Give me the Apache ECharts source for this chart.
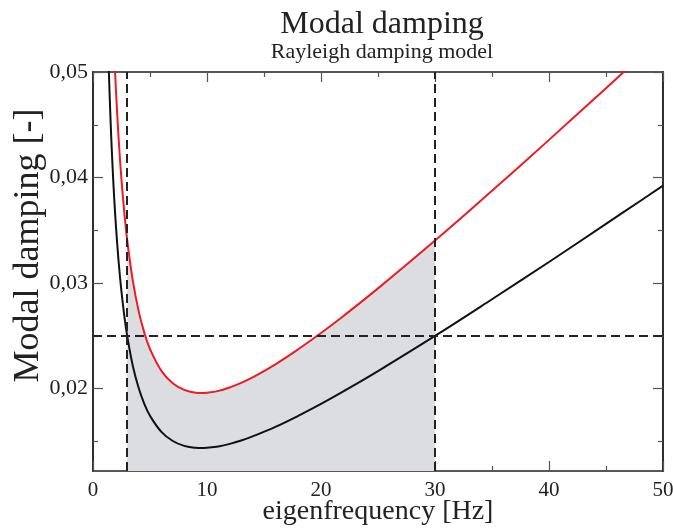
<!DOCTYPE html>
<html>
<head>
<meta charset="utf-8">
<script src="https://cdn.jsdelivr.net/npm/echarts@6/dist/echarts.min.js"></script>
<style>
  html, body { margin: 0; padding: 0; background: #fff; }
  #chart { width: 673px; height: 530px; }
</style>
</head>
<body>
<div id="chart"></div>
<script>
var freqs = [1.3, 1.4, 1.5, 1.6, 1.7, 1.8, 1.9, 2, 2.25, 2.5, 2.75, 3, 3.5, 4, 4.5, 5, 6, 7, 8, 9, 9.5, 10,
  11, 12, 13, 14, 16, 18, 20, 22, 25, 30, 35, 40, 45, 48, 50];
var blackDamping = [0.05343, 0.04976, 0.04659, 0.04382, 0.04140, 0.03924, 0.03732, 0.03561, 0.03200,
  0.02916, 0.02687, 0.02500, 0.02213, 0.02008, 0.01856, 0.01743, 0.01591, 0.01504, 0.01458, 0.01440,
  0.01437, 0.01440, 0.01453, 0.01477, 0.01509, 0.01548, 0.01638, 0.01743, 0.01856, 0.01977, 0.02167,
  0.02500, 0.02847, 0.03200, 0.03561, 0.03778, 0.03924];
var redDamping = [0.07288, 0.06787, 0.06355, 0.05978, 0.05646, 0.05353, 0.05091, 0.04856, 0.04365,
  0.03978, 0.03666, 0.03409, 0.03018, 0.02737, 0.02531, 0.02376, 0.02169, 0.02051, 0.01988, 0.01961,
  0.01958, 0.01961, 0.01979, 0.02012, 0.02055, 0.02107, 0.02231, 0.02373, 0.02527, 0.02691, 0.02950,
  0.03403, 0.03875, 0.04357, 0.04847, 0.05143, 0.05341];

var refFreqs = [3, 30];      // dashed vertical lines
var refDamping = [0.025];    // dashed horizontal line
var yMajorTicks = [0.02, 0.03, 0.04, 0.05];
var yMinorTicks = [0.015, 0.025, 0.035, 0.045];

(function dampingChart() {
  var dom = document.getElementById("chart");
  var myChart = echarts.init(dom, null, { renderer: "canvas" });
  var font = "Liberation Serif";

  var black = freqs.map(function (f, i) { return [f, blackDamping[i]]; });
  var red = freqs.map(function (f, i) { return [f, redDamping[i]]; });
  var band = red.filter(function (p) { return p[0] >= refFreqs[0] && p[0] <= refFreqs[1]; });

  var yMin = 0.0122, yMax = 0.05;
  var axisLine = { show: true, lineStyle: { color: "#222", width: 1.5 } };

  function yAxisDef(position, ticks, len, extra) {
    return Object.assign({
      type: "value",
      position: position,
      min: yMin,
      max: yMax,
      axisLine: axisLine,
      splitLine: { show: false },
      axisLabel: { show: false },
      axisTick: {
        show: true, inside: true, length: len, customValues: ticks,
        lineStyle: { color: "#555", width: 1.2 },
      },
    }, extra || {});
  }

  function xAxisDef(position, extra) {
    return Object.assign({
      type: "value",
      position: position,
      min: 0,
      max: 50,
      interval: 10,
      axisLine: axisLine,
      splitLine: { show: false },
      axisLabel: { show: false },
      axisTick: { show: true, inside: true, length: 10, lineStyle: { color: "#555", width: 1.2 } },
      minorTick: { show: true, splitNumber: 2, length: 5, lineStyle: { color: "#555", width: 1.2 } },
    }, extra || {});
  }

  var option = {
    animation: false,
    backgroundColor: "#fff",
    textStyle: { fontFamily: font },
    title: {
      text: "Modal damping",
      subtext: "Rayleigh damping model",
      left: 377,
      textAlign: "center",
      top: 4,
      itemGap: 0,
      textStyle: { fontFamily: font, fontSize: 32, fontWeight: "normal", color: "#222" },
      subtextStyle: { fontFamily: font, fontSize: 22, color: "#222" },
    },
    grid: { left: 93, right: 10, top: 72, bottom: 59, outerBoundsMode: "none", containLabel: false },
    xAxis: [
      xAxisDef("bottom", {
        name: "eigenfrequency [Hz]",
        nameLocation: "middle",
        nameGap: 27,
        nameMoveOverlap: false,
        nameTextStyle: { fontFamily: font, fontSize: 28, color: "#222" },
        axisLabel: { show: true, margin: 9, fontFamily: font, fontSize: 21, color: "#222" },
      }),
      xAxisDef("top"),
    ],
    yAxis: [
      yAxisDef("left", yMajorTicks, 10, {
        name: "Modal damping [-]",
        nameLocation: "middle",
        nameGap: 46,
        nameMoveOverlap: false,
        nameTextStyle: { fontFamily: font, fontSize: 36, color: "#222", padding: [0, 0, 0, 52] },
        axisLabel: {
          show: true, margin: 5, fontFamily: font, fontSize: 22, color: "#222",
          customValues: yMajorTicks,
          formatter: function (v) { return v.toFixed(2).replace(".", ","); },
        },
      }),
      yAxisDef("left", yMinorTicks, 5),
      yAxisDef("right", yMajorTicks, 10),
      yAxisDef("right", yMinorTicks, 5),
    ],
    series: [
      {
        name: "band",
        type: "line",
        data: band,
        smooth: 0.4,
        symbol: "none",
        lineStyle: { width: 0 },
        areaStyle: { color: "#dcdde0", opacity: 1, origin: "start" },
        z: 1,
      },
      {
        name: "lower",
        type: "line",
        data: black,
        smooth: 0.4,
        symbol: "none",
        lineStyle: { color: "#111", width: 2 },
        z: 3,
        markLine: {
          silent: true,
          symbol: "none",
          precision: 5,
          label: { show: false },
          lineStyle: { color: "#222", width: 2, type: [9, 5] },
          data: refFreqs.map(function (f) { return { xAxis: f }; })
            .concat(refDamping.map(function (d) { return { yAxis: d }; })),
        },
      },
      {
        name: "upper",
        type: "line",
        data: red,
        smooth: 0.4,
        symbol: "none",
        lineStyle: { color: "#ec1c24", width: 2 },
        z: 4,
      },
    ],
  };

  option && myChart.setOption(option);
  window.addEventListener("resize", myChart.resize);
})();
</script>
</body>
</html>
